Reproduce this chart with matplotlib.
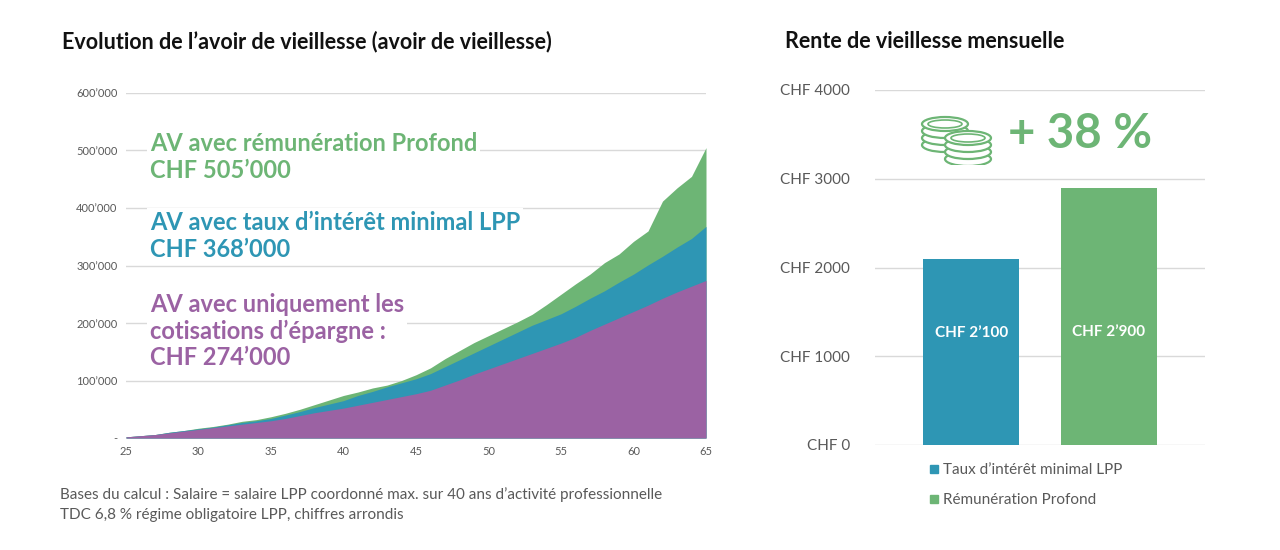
import matplotlib
matplotlib.use('Agg')
import matplotlib.pyplot as plt
from matplotlib.patches import Ellipse, Rectangle
import numpy as np

plt.rcParams['font.family'] = 'Lato'

ages = list(range(25, 66))
# cumulative tops (k CHF)
epargne = [2, 4, 6, 9, 12, 15, 18, 21, 24, 27, 30, 34, 39, 44, 48, 52, 57, 62, 67, 72, 77,
           83, 92, 101, 111, 120, 129, 138, 147, 156, 165, 175, 187, 198, 209, 220, 231, 243, 254, 264, 274]
lpp = [2, 4, 6, 10, 13, 16, 19, 23, 27, 30, 34, 40, 46, 53, 59, 65, 74, 81, 89, 96, 103,
       112, 124, 136, 148, 160, 172, 184, 196, 206, 216, 229, 243, 256, 271, 285, 301, 316, 332, 347, 368]
profond = [2, 4, 6, 10, 13, 17, 20, 24, 29, 32, 37, 43, 50, 58, 66, 74, 80, 87, 92, 100, 110,
           122, 138, 152, 166, 178, 190, 202, 215, 232, 250, 268, 285, 305, 320, 342, 360, 412, 435, 455, 505]
y_ticks = [0, 100, 200, 300, 400, 500, 600]
y_labels = ['-', '100’000', '200’000', '300’000', '400’000', '500’000', '600’000']

rente_labels = ['Taux d’intérêt minimal LPP', 'Rémunération Profond']
rente = [2100, 2900]
rente_text = ['CHF 2’100', 'CHF 2’900']

GREEN = '#6db575'
BLUE = '#2e96b4'
PURPLE = '#9b62a3'
GRID = '#d9d9d9'
TXT = '#595959'

fig = plt.figure(figsize=(12.8, 5.5), dpi=100)

# left chart
ax = fig.add_axes([126/1280, 1-438/550, 580/1280, 345/550])
a = np.array(ages)
ax.fill_between(a, 0, profond, color=GREEN, lw=0)
ax.fill_between(a, 0, lpp, color=BLUE, lw=0)
ax.fill_between(a, 0, epargne, color=PURPLE, lw=0)
ax.set_xlim(25, 65)
ax.set_ylim(0, 600)
ax.set_yticks(y_ticks)
ax.set_yticklabels(y_labels)
ax.set_xticks(range(25, 70, 5))
ax.tick_params(length=0, labelsize=8, colors=TXT, pad=6)
ax.grid(axis='y', color=GRID, lw=1)
ax.set_axisbelow(True)
for s in ax.spines.values():
    s.set_visible(False)

fig.text(62/1280, 1-42/550, 'Evolution de l’avoir de vieillesse (avoir de vieillesse)',
         fontsize=15.5, fontweight='bold', color='#111111', va='center')
box = dict(facecolor='white', edgecolor='none', pad=2)
fig.text(150/1280, 1-157/550, 'AV avec rémunération Profond\nCHF 505’000', fontsize=17,
         fontweight='bold', color=GREEN, va='center', linespacing=1.25, bbox=box)
fig.text(150/1280, 1-236/550, 'AV avec taux d’intérêt minimal LPP\nCHF 368’000', fontsize=17,
         fontweight='bold', color=BLUE, va='center', linespacing=1.25, bbox=box)
fig.text(150/1280, 1-331/550, 'AV avec uniquement les\ncotisations d’épargne :\nCHF 274’000',
         fontsize=17, fontweight='bold', color=PURPLE, va='center', linespacing=1.2, bbox=box)
fig.text(60/1280, 1-495/550, 'Bases du calcul : Salaire = salaire LPP coordonné max. sur 40 ans d’activité professionnelle',
         fontsize=11, color=TXT, va='center')
fig.text(60/1280, 1-515/550, 'TDC 6,8 % régime obligatoire LPP, chiffres arrondis',
         fontsize=11, color=TXT, va='center')

# right chart
ax2 = fig.add_axes([875/1280, 1-445/550, 330/1280, 355/550])
ax2.bar([0, 1], rente, width=0.7, color=[BLUE, GREEN])
ax2.set_xlim(-0.7, 1.7)
ax2.set_ylim(0, 4000)
ax2.set_yticks(range(0, 4001, 1000))
ax2.set_yticklabels([f'CHF {v}' for v in range(0, 4001, 1000)])
ax2.set_xticks([])
ax2.tick_params(length=0, labelsize=11, colors=TXT, pad=18)
ax2.grid(axis='y', color=GRID, lw=1)
ax2.set_axisbelow(True)
for s in ax2.spines.values():
    s.set_visible(False)
for i, (v, t) in enumerate(zip(rente, rente_text)):
    ax2.text(i, v * 0.6 if i == 0 else v * 0.44, t, ha='center', va='center', color='white',
             fontsize=11, fontweight='bold')

fig.text(785/1280, 1-42/550, 'Rente de vieillesse mensuelle', fontsize=15.5,
         fontweight='bold', color='#111111', va='center')
fig.text(1008/1280, 1-134/550, '+ 38 %', fontsize=34, fontweight='bold', color=GREEN, va='center')

for i, (lab, c) in enumerate(zip(rente_labels, [BLUE, GREEN])):
    yy = 1 - (470 + 30 * i) / 550
    fig.patches.append(Rectangle((930/1280, yy - 0.006), 8/1280, 8/550, transform=fig.transFigure,
                                 color=c))
    fig.text(943/1280, yy, lab, fontsize=11, color=TXT, va='center')

# coins icon
axc = fig.add_axes([918/1280, 1-165/550, 80/1280, 62/550])
axc.set_xlim(0, 80)
axc.set_ylim(0, 62)
axc.axis('off')
for cx, cy, n in [(27, 20, 4), (50, 6, 4)]:
    for k in range(n):
        axc.add_patch(Ellipse((cx, cy + k * 7), 46, 14, facecolor='white', edgecolor=GREEN, lw=1.6))
    axc.add_patch(Ellipse((cx, cy + (n - 1) * 7), 34, 8, facecolor='none', edgecolor=GREEN, lw=1.2))

fig.savefig('out.png', dpi=100)
